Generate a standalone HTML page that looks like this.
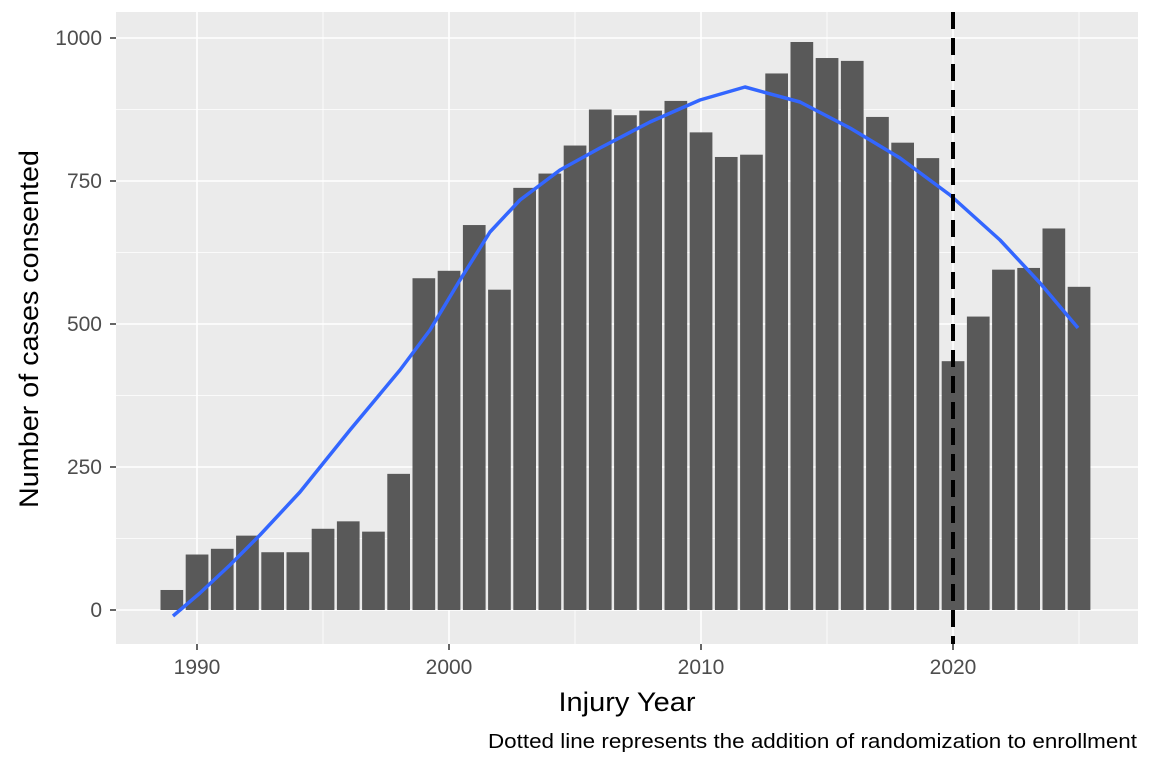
<!DOCTYPE html>
<html><head><meta charset="utf-8"><style>body{margin:0;background:#fff}svg{display:block}</style></head>
<body>
<svg id="s" width="1152" height="768" xmlns="http://www.w3.org/2000/svg" font-family="Liberation Sans, sans-serif">
<rect x="116" y="12" width="1022" height="632" fill="#ebebeb"/>
<g id="g"></g>
<g id="b"></g>
<path d="M173,616 L200,593 L230,565 L260,535 L300,492 L350,430 L400,370 L430,330 L460,280 L490,232 L520,200 L560,170 L600,148 L650,122 L700,100 L745,87 L800,102 L850,128 L900,158 L950,195 L1000,240 L1040,283 L1078,328" fill="none" stroke="#3366ff" stroke-width="3.5" stroke-linejoin="round"/>
<line x1="953" y1="12" x2="953" y2="644" stroke="#000" stroke-width="4" stroke-dasharray="17,9"/>
<g font-size="21" fill="#4d4d4d" text-anchor="end">
<text x="102" y="617">0</text><text x="102" y="474">250</text><text x="102" y="331">500</text><text x="102" y="188">750</text><text x="102" y="45">1000</text>
</g>
<g font-size="21" fill="#4d4d4d" text-anchor="middle">
<text x="197" y="674">1990</text><text x="449" y="674">2000</text><text x="701" y="674">2010</text><text x="953" y="674">2020</text>
</g>
<g stroke="#333" stroke-width="1.5">
<line x1="110" y1="610" x2="116" y2="610"/><line x1="110" y1="467" x2="116" y2="467"/><line x1="110" y1="324" x2="116" y2="324"/><line x1="110" y1="181" x2="116" y2="181"/><line x1="110" y1="38" x2="116" y2="38"/>
<line x1="197" y1="644" x2="197" y2="650"/><line x1="449" y1="644" x2="449" y2="650"/><line x1="701" y1="644" x2="701" y2="650"/><line x1="953" y1="644" x2="953" y2="650"/>
</g>
<text x="627" y="711" font-size="27" text-anchor="middle" fill="#000" textLength="137" lengthAdjust="spacingAndGlyphs">Injury Year</text>
<text transform="translate(38,329) rotate(-90)" font-size="27" text-anchor="middle" fill="#000" textLength="358" lengthAdjust="spacingAndGlyphs">Number of cases consented</text>
<text x="1137" y="748" font-size="20" text-anchor="end" fill="#000" textLength="649" lengthAdjust="spacingAndGlyphs">Dotted line represents the addition of randomization to enrollment</text>
</svg>
<script>
var ns="http://www.w3.org/2000/svg";
function el(p,t,a){var e=document.createElementNS(ns,t);for(var k in a)e.setAttribute(k,a[k]);document.getElementById(p).appendChild(e);}
function Y(v){return 610-v*0.572}function X(y){return 197+(y-1990)*25.2}
[125,375,625,875].forEach(function(v){el("g","line",{x1:116,x2:1138,y1:Y(v),y2:Y(v),stroke:"#fff","stroke-width":0.8})});
[0,250,500,750,1000].forEach(function(v){el("g","line",{x1:116,x2:1138,y1:Y(v),y2:Y(v),stroke:"#fff","stroke-width":1.6})});
[1995,2005,2015,2025].forEach(function(v){el("g","line",{y1:12,y2:644,x1:X(v),x2:X(v),stroke:"#fff","stroke-width":0.8})});
[1990,2000,2010,2020].forEach(function(v){el("g","line",{y1:12,y2:644,x1:X(v),x2:X(v),stroke:"#fff","stroke-width":1.6})});
var d=[35,97,107,130,101,101,142,155,137,238,580,593,673,560,738,763,812,875,865,873,890,835,792,796,938,993,965,960,862,817,790,435,513,595,598,667,565];
d.forEach(function(v,i){var yr=1989+i;el("b","rect",{x:X(yr)-11.3,width:22.7,y:Y(v),height:v*0.572,fill:"#595959"})});
</script>
</body></html>
